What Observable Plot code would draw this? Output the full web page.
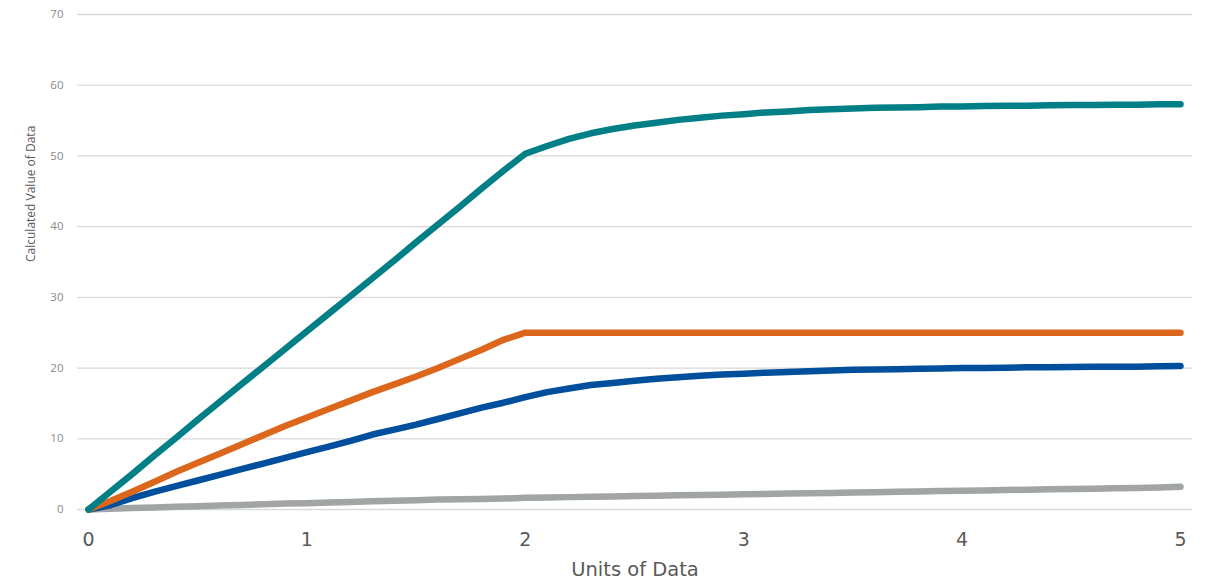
<!DOCTYPE html>
<html>
<head>
<meta charset="utf-8">
<script src="https://cdn.jsdelivr.net/npm/d3@7"></script>
<script src="https://cdn.jsdelivr.net/npm/@observablehq/plot@0.6"></script>
<style>
  html, body { margin: 0; padding: 0; background: #fff; }
  #chart svg { display: block; }
</style>
</head>
<body>
<div id="chart"></div>
<script>
const units = [0,0.1,0.2,0.3,0.4,0.5,0.6,0.7,0.8,0.9,1,1.1,1.2,1.3,1.4,1.5,1.6,1.7,1.8,1.9,2,2.1,2.2,2.3,2.4,2.5,2.6,2.7,2.8,2.9,3,3.1,3.2,3.3,3.4,3.5,3.6,3.7,3.8,3.9,4,4.1,4.2,4.3,4.4,4.5,4.6,4.7,4.8,4.9,5];

const tealValues = [0,2.5,5.0,7.6,10.1,12.7,15.2,17.7,20.2,22.7,25.2,27.7,30.2,32.7,35.2,37.8,40.3,42.8,45.4,47.9,50.3,51.4,52.4,53.2,53.8,54.3,54.7,55.1,55.4,55.7,55.9,56.15,56.3,56.5,56.6,56.7,56.8,56.85,56.9,57.0,57.0,57.05,57.1,57.1,57.15,57.2,57.2,57.25,57.25,57.3,57.3];

const orangeValues = [0,1.2,2.5,3.9,5.3,6.6,7.9,9.2,10.5,11.8,13.0,14.2,15.4,16.6,17.7,18.8,20.0,21.3,22.6,24.0,25,25,25,25,25,25,25,25,25,25,25,25,25,25,25,25,25,25,25,25,25,25,25,25,25,25,25,25,25,25,25];

const blueValues = [0,0.6,1.6,2.5,3.3,4.1,4.9,5.7,6.5,7.3,8.1,8.9,9.7,10.6,11.3,12.0,12.8,13.6,14.4,15.1,15.9,16.6,17.1,17.6,17.9,18.2,18.5,18.7,18.9,19.1,19.2,19.35,19.45,19.55,19.65,19.75,19.8,19.85,19.9,19.95,20.0,20.0,20.05,20.1,20.1,20.15,20.2,20.2,20.2,20.25,20.3];

const grayValues = [0,0.1,0.2,0.3,0.4,0.45,0.55,0.65,0.75,0.85,0.9,1.0,1.05,1.15,1.25,1.3,1.4,1.45,1.5,1.55,1.65,1.7,1.75,1.8,1.85,1.9,1.95,2.0,2.05,2.1,2.15,2.2,2.25,2.3,2.35,2.4,2.45,2.5,2.55,2.6,2.65,2.7,2.75,2.8,2.85,2.9,2.95,3.0,3.05,3.1,3.2];

const xTicks = [0,1,2,3,4,5];
const yTicks = [0,10,20,30,40,50,60,70];
const xTitle = "Units of Data";
const yTitle = "Calculated Value of Data";

const seriesList = [
  {name: "Series 4", values: grayValues, color: "#a2a5a5"},
  {name: "Series 3", values: blueValues, color: "#004f9c"},
  {name: "Series 2", values: orangeValues, color: "#dc661c"},
  {name: "Series 1", values: tealValues, color: "#007f86"}
];

const rows = seriesList.flatMap(s => units.map((u, i) => ({series: s.name, x: u, y: s.values[i]})));

const chart = Plot.plot({
  width: 1210,
  height: 584,
  marginLeft: 77,
  marginRight: 18,
  marginTop: 14,
  marginBottom: 75,
  style: {fontFamily: "'Open Sans', 'Noto Sans', sans-serif", background: "#fff"},
  x: {domain: [-0.0504, 5.055], ticks: xTicks},
  y: {domain: [0, 70], ticks: yTicks},
  color: {type: "ordinal", domain: seriesList.map(s => s.name), range: seriesList.map(s => s.color)},
  marks: [
    Plot.ruleY(yTicks, {stroke: "#d9d9d9", strokeWidth: 1.3}),
    Plot.axisY({ticks: yTicks, tickSize: 0, tickPadding: 14, fontSize: 11.5, fill: "#8a8a8a", label: null}),
    Plot.axisX({ticks: xTicks, tickSize: 0, tickPadding: 23, fontSize: 19, fill: "#595959", label: null, tickFormat: d3.format("d"), fontFamily: "'DejaVu Sans', sans-serif"}),
    Plot.line(rows, {x: "x", y: "y", z: "series", stroke: "series", strokeWidth: 6.5, strokeLinecap: "round", strokeLinejoin: "round"}),
    Plot.text([xTitle], {frameAnchor: "bottom", dy: 60, lineAnchor: "middle", fontSize: 19.5, fill: "#595959", fontFamily: "'DejaVu Sans', sans-serif"}),
    Plot.text([yTitle], {frameAnchor: "left", dx: -46, rotate: -90, fontSize: 12, fill: "#595959"})
  ]
});

document.getElementById("chart").appendChild(chart);
</script>
</body>
</html>
